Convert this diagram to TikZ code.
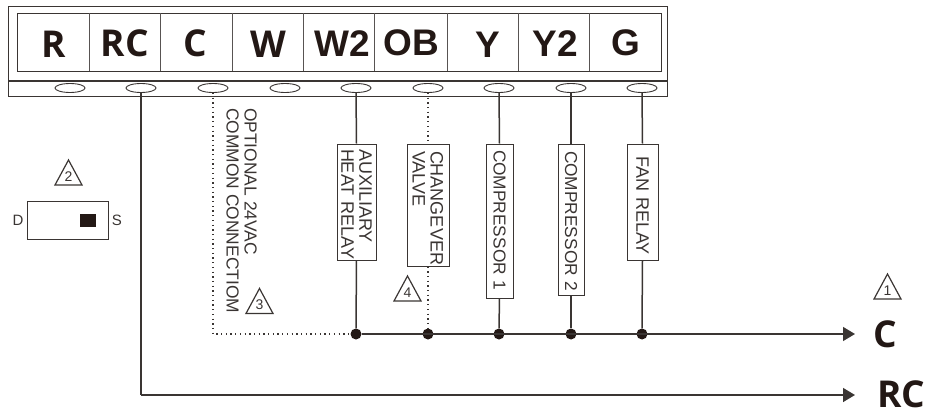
\documentclass[tikz,border=0pt]{standalone}
\usepackage{fontspec}
\setmainfont{Liberation Sans}
\newfontfamily\opensans{Open Sans}
\usetikzlibrary{shapes.geometric,arrows.meta}
\definecolor{ink}{HTML}{3A3533}
\definecolor{blk}{HTML}{231815}
\tikzset{
 x=1pt,y=-1pt,
 frame/.style={draw=ink,line width=1.1pt},
 thin frame/.style={draw=ink!85,line width=0.9pt},
 term/.style={ellipse,draw=ink,line width=0.9pt,minimum width=30pt,minimum height=9pt,inner sep=0pt,fill=white},
 lab/.style={anchor=base,text=blk,inner sep=0pt,font=\fontsize{37}{37}\selectfont\bfseries},
 labo/.style={anchor=base,text=blk,inner sep=0pt,font=\fontsize{37}{37}\selectfont\opensans\bfseries},
 wire/.style={draw=ink,line width=1.5pt},
 dots/.style={draw=ink,line width=1.2pt,dash pattern=on 1.3pt off 3.4pt},
 junction/.style={circle,fill=blk,inner sep=0pt,minimum size=11pt},
 relay/.style n args={3}{draw=ink,line width=1pt,fill=white,rotate=-90,inner ysep=0pt,inner xsep=0pt,
   minimum width=#1,minimum height=#2,text width=#1-2*#3,align=left,text=ink,
   font=\fontsize{18}{18}\selectfont},
 vtext/.style={rotate=-90,align=left,text=ink,inner sep=0pt,font=\fontsize{17.4}{18}\selectfont},
 tri/.style={draw=ink,line width=1.2pt,line join=miter},
 trinum/.style={text=ink,inner sep=0pt,font=\fontsize{14}{14}\selectfont},
 arrow/.style={wire,-{Triangle[length=12pt,width=14pt]}},
}
\newcommand{\warntri}[4]{% name, apex x, apex y, number
  \draw[tri] (#2,#3) -- ++(13.5,25) -- ++(-27,0) -- cycle;
  \node[trinum] (#1) at (#2,#3+16.5) {#4};
}
\begin{document}
\begin{tikzpicture}
\useasboundingbox (0,0) rectangle (927,412);
% terminal block
\node[frame,draw,anchor=north west,minimum width=659pt,minimum height=90pt,inner sep=0pt] (block) at (8,6) {};
\draw[frame] (8,81) -- (667,81);
\node[frame,draw,anchor=north west,minimum width=644pt,minimum height=58pt,inner sep=0pt] (strip) at (17,13) {};
\foreach \x in {89,160,232,303,374,447,518,589} \draw[thin frame] (\x,13) -- (\x,71);
% labels
\node[labo] (lR) at (54,58) {R};
\node[labo] (lRC) at (125,57) {RC};
\node[labo] (lC) at (195,57) {C};
\node[labo] (lW) at (268,58) {W};
\node[lab] (lW2) at (342,57) {W2};
\node[lab] (lOB) at (411,56) {OB};
\node[lab] (lY) at (488,58) {Y};
\node[lab] (lY2) at (555,57) {Y2};
\node[lab] (lG) at (626,56) {G};
% terminals
\node[term] (t1) at (70,88) {};
\node[term] (t2) at (141,88) {};
\node[term] (t3) at (213,88) {};
\node[term] (t4) at (285,88) {};
\node[term] (t5) at (356,88) {};
\node[term] (t6) at (428,88) {};
\node[term] (t7) at (499,88) {};
\node[term] (t8) at (571,88) {};
\node[term] (t9) at (642,88) {};
% relays
\node[relay={116pt}{39pt}{5pt}] (aux) at (356.5,202) {\mbox{AUXILIARY}\\\mbox{HEAT RELAY}};
\node[relay={122pt}{42pt}{7pt}] (chg) at (428,205) {\mbox{CHANGEVER}\\\mbox{VALVE}};
\node[relay={154pt}{27pt}{6pt},font=\fontsize{17.3}{18}\selectfont] (cmp1) at (499.5,221) {\mbox{COMPRESSOR 1}};
\node[relay={151pt}{26pt}{7pt},font=\fontsize{17.3}{18}\selectfont] (cmp2) at (571,219.5) {\mbox{COMPRESSOR 2}};
\node[relay={116pt}{31pt}{12pt}] (fan) at (642.5,202) {\mbox{FAN RELAY}};
% junctions
\coordinate (dstart) at (213,334);
\node[junction] (j5) at (356,334) {};
\node[junction] (j6) at (428,334) {};
\node[junction] (j7) at (499,334) {};
\node[junction] (j8) at (571,334) {};
\node[junction] (j9) at (642,334) {};
\coordinate (cend) at (855,334);
\coordinate (rcbend) at (141,395);
\coordinate (rcend) at (855,395);
% wires
\draw[wire] (t2.south) -- (rcbend);
\draw[arrow] (rcbend) -- (rcend);
\draw[dots] (t3.south) -- (dstart) -- (j5.west);
\draw[wire] (t5.south) -- (aux.west);
\draw[wire] (aux.east) -- (j5.north);
\draw[dots] (t6.south) -- (chg.west);
\draw[dots] (chg.east) -- (j6.north);
\draw[wire] (t7.south) -- (cmp1.west);
\draw[wire] (cmp1.east) -- (j7.north);
\draw[wire] (t8.south) -- (cmp2.west);
\draw[wire] (cmp2.east) -- (j8.north);
\draw[wire] (t9.south) -- (fan.west);
\draw[wire] (fan.east) -- (j9.north);
\draw[arrow] (j5.east) -- (cend);
% optional text
\node[vtext,anchor=north west] (opt) at (257,108) {OPTIONAL 24VAC\\COMMON CONNECTIOM};
% DS switch
\node[draw=ink,line width=1pt,anchor=north west,minimum width=81pt,minimum height=38pt,inner sep=0pt] (sw) at (27,201) {};
\node[fill=blk,anchor=north west,minimum width=16pt,minimum height=13pt,inner sep=0pt] (slider) at (80,214) {};
\node[text=ink,inner sep=0pt,font=\fontsize{15}{15}\selectfont] (D) at (18,220.5) {D};
\node[text=ink,inner sep=0pt,font=\fontsize{15}{15}\selectfont] (S) at (117,220.5) {S};
% triangles
\warntri{n1}{887.5}{274}{1}
\warntri{n2}{68.5}{160}{2}
\warntri{n3}{259.5}{288.5}{3}
\warntri{n4}{407.5}{276}{4}
% bus labels
\node[labo] (busC) at (885,347) {C};
\node[labo] (busRC) at (901.5,407) {RC};
\end{tikzpicture}
\end{document}
